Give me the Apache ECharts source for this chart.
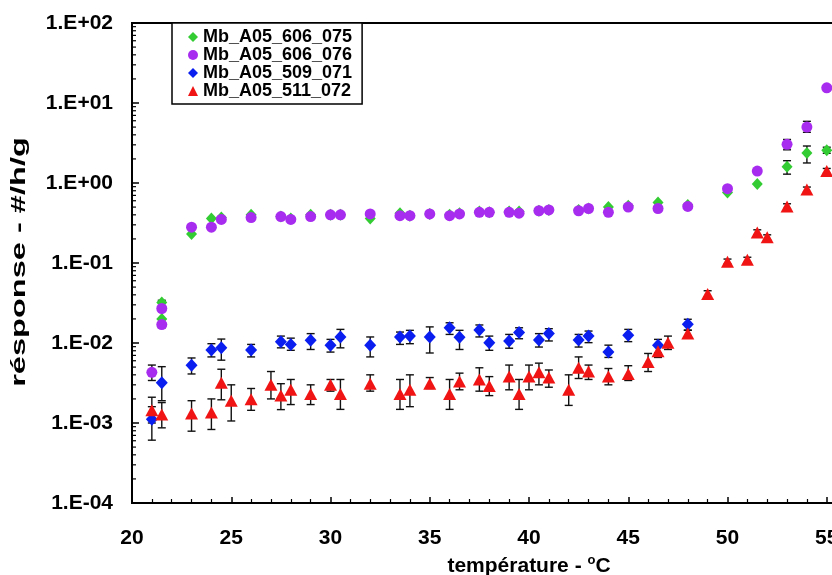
<!DOCTYPE html>
<html><head><meta charset="utf-8">
<script src="https://cdn.jsdelivr.net/npm/echarts@6/dist/echarts.min.js"></script>
<style>html,body{margin:0;padding:0;background:#fff}#c{width:832px;height:575px}</style>
</head><body><div id="c"></div>
<script>
const seriesNames = ['Mb_A05_606_075', 'Mb_A05_606_076', 'Mb_A05_509_071', 'Mb_A05_511_072'];

const greenT = [21.5,21.5,23,24,24.5,26,27.5,28,29,30,30.5,32,33.5,34,35,36,36.5,37.5,38,39,39.5,40.5,41,42.5,43,44,45,46.5,48,50,51.5,53,54,55];
const greenV = [0.032,0.020,0.23,0.36,0.37,0.40,0.38,0.36,0.40,0.40,0.40,0.36,0.42,0.39,0.41,0.40,0.42,0.44,0.43,0.44,0.44,0.45,0.46,0.46,0.48,0.50,0.52,0.57,0.53,0.76,0.97,1.60,2.37,2.57];
const greenErrT = [21.5,53,54,55];
const greenErrLo = [0.0155,1.29,1.78,2.35];
const greenErrHi = [0.0342,1.9,2.9,2.8];

const purpleT = [21,21.5,21.5,23,24,24.5,26,27.5,28,29,30,30.5,32,33.5,34,35,36,36.5,37.5,38,39,39.5,40.5,41,42.5,43,44,45,46.5,48,50,51.5,53,54,55];
const purpleV = [0.0043,0.027,0.017,0.28,0.28,0.35,0.37,0.38,0.35,0.38,0.40,0.40,0.41,0.39,0.39,0.41,0.39,0.41,0.43,0.43,0.43,0.42,0.45,0.46,0.45,0.48,0.43,0.50,0.48,0.51,0.85,1.41,3.04,5.0,15.5];
const purpleErrT = [21,53,54];
const purpleErrLo = [0.0034,2.6,4.3];
const purpleErrHi = [0.0053,3.5,5.9];

const blueT = [21,21.5,23,24,24.5,26,27.5,28,29,30,30.5,32,33.5,34,35,36,36.5,37.5,38,39,39.5,40.5,41,42.5,43,44,45,46.5,48];
const blueV = [0.00111,0.00319,0.00526,0.0082,0.0087,0.0082,0.0104,0.0096,0.0108,0.0094,0.0119,0.0094,0.0119,0.0122,0.0119,0.0155,0.0118,0.0145,0.0101,0.0106,0.0135,0.0109,0.0131,0.0109,0.0122,0.0077,0.0125,0.0094,0.0171];
const blueLo = [0.00061,0.0019,0.0041,0.0067,0.0061,0.0067,0.0087,0.0081,0.0083,0.0077,0.0087,0.0067,0.0096,0.0098,0.0075,0.0128,0.0083,0.0119,0.0081,0.0086,0.0113,0.0089,0.0106,0.0089,0.0101,0.0066,0.0104,0.0075,0.0144];
const blueHi = [0.0016,0.00506,0.0065,0.0098,0.0112,0.0096,0.0122,0.0115,0.0131,0.0111,0.0148,0.0119,0.0137,0.0144,0.0159,0.0179,0.0144,0.0168,0.0122,0.0128,0.0155,0.0131,0.0151,0.0128,0.0141,0.0094,0.0148,0.0111,0.0198];

const redT = [21,21.5,23,24,24.5,25,26,27,27.5,28,29,30,30.5,32,33.5,34,35,36,36.5,37.5,38,39,39.5,40,40.5,41,42,42.5,43,44,45,46,46.5,47,48,49,50,51,51.5,52,53,54,55];
const redV = [0.00144,0.00128,0.00131,0.00135,0.00318,0.0019,0.00198,0.0030,0.0022,0.0026,0.0023,0.0030,0.0023,0.0031,0.0023,0.0026,0.0031,0.0023,0.0033,0.0035,0.0029,0.0038,0.0023,0.0038,0.0043,0.0037,0.0026,0.0049,0.0044,0.0038,0.0041,0.0058,0.0079,0.0101,0.0131,0.041,0.104,0.11,0.24,0.21,0.51,0.83,1.41];
const redLo = [0.0010,0.00087,0.00079,0.00083,0.00195,0.00106,0.00144,0.0020,0.00147,0.0017,0.0017,0.0025,0.00148,0.0025,0.00148,0.0016,0.0027,0.00148,0.0026,0.0025,0.0022,0.0026,0.00148,0.0026,0.0030,0.0028,0.00166,0.0036,0.0035,0.0030,0.0034,0.0044,0.0066,0.0083,0.0118,0.038,0.097,0.102,0.225,0.196,0.48,0.78,1.32];
const redHi = [0.0021,0.0018,0.0019,0.0020,0.0047,0.0030,0.0027,0.0044,0.0031,0.0035,0.0030,0.0035,0.0035,0.0040,0.0035,0.0040,0.0037,0.0035,0.0042,0.0049,0.0038,0.0053,0.0035,0.0053,0.0056,0.0046,0.0040,0.0067,0.0053,0.0048,0.0052,0.0074,0.0092,0.0122,0.0145,0.045,0.112,0.118,0.26,0.225,0.55,0.89,1.52];

const xTitle = 'température - {sup|o}C';
const yTitle = 'résponse - #/h/g';

const FONT = '"Liberation Sans", Arial, sans-serif';
const colors = ['#33cc33', '#a82cf0', '#0a1ef0', '#f01414'];
const symbols = ['diamond', 'circle', 'diamond', 'triangle'];
const sizes = [[11, 12], 11, [12, 13], [13, 12]];

function zip2(a, b) { return a.map((v, i) => [v, b[i]]); }
function zip3(a, b, c) { return a.map((v, i) => [v, b[i], c[i]]); }

function errRender(params, api) {
  const x = api.value(0), lo = api.value(1), hi = api.value(2);
  const p1 = api.coord([x, lo]);
  const p2 = api.coord([x, hi]);
  const cw = 4;
  const st = { stroke: '#111', lineWidth: 1.4 };
  return {
    type: 'group',
    children: [
      { type: 'line', shape: { x1: p1[0], y1: p1[1], x2: p2[0], y2: p2[1] }, style: st },
      { type: 'line', shape: { x1: p1[0] - cw, y1: p1[1], x2: p1[0] + cw, y2: p1[1] }, style: st },
      { type: 'line', shape: { x1: p2[0] - cw, y1: p2[1], x2: p2[0] + cw, y2: p2[1] }, style: st }
    ]
  };
}

// log minor tick positions on the y axis (2..9 x 10^k)
const minorY = [];
for (let k = -4; k < 2; k++) for (let m = 2; m <= 9; m++) minorY.push([20, m * Math.pow(10, k)]);

function errSeries(data, z) {
  return { type: 'custom', renderItem: errRender, data: data, encode: { x: 0, y: [1, 2] }, z: z, silent: true, clip: false };
}

const chart = echarts.init(document.getElementById('c'), null, { renderer: 'canvas' });
chart.setOption({
  animation: false,
  backgroundColor: '#fff',
  textStyle: { fontFamily: FONT },
  grid: { left: 132, top: 23, right: -94, bottom: 72, outerBoundsMode: 'none', containLabel: false,
    show: true, borderColor: '#000', borderWidth: 2, backgroundColor: 'transparent' },
  graphic: [{
    type: 'text', x: 19, y: 262, rotation: Math.PI / 2, scaleX: 1.55, z: 10,
    style: { text: yTitle, font: 'bold 21px "Liberation Sans", Arial, sans-serif', fill: '#000', align: 'center', verticalAlign: 'middle' }
  }],
  legend: {
    orient: 'vertical', left: 172, top: 23,
    backgroundColor: '#fff', borderColor: '#000', borderWidth: 1.5,
    padding: [5, 10, 4, 16], itemGap: 0, itemWidth: 10, itemHeight: 10,
    textStyle: { fontFamily: FONT, fontWeight: 'bold', fontSize: 18, color: '#000', lineHeight: 17 },
    data: seriesNames.map((n, i) => ({ name: n, icon: symbols[i] }))
  },
  xAxis: {
    type: 'value', min: 20, max: 60, interval: 5,
    axisLine: { lineStyle: { color: '#000', width: 2 } },
    axisTick: { inside: true, length: 6, lineStyle: { color: '#000', width: 1.5 } },
    minorTick: { show: true, splitNumber: 5, length: 4, lineStyle: { color: '#000', width: 1.2 } },
    splitLine: { show: false },
    axisLabel: { fontFamily: FONT, fontWeight: 'bold', fontSize: 21, color: '#000', margin: 25 },
    name: xTitle, nameLocation: 'middle', nameGap: 50,
    nameTextStyle: { fontFamily: FONT, fontWeight: 'bold', fontSize: 21, color: '#000',
      rich: { sup: { fontFamily: FONT, fontWeight: 'bold', fontSize: 13, color: '#000', padding: [0, 0, 12, 0] } } }
  },
  yAxis: {
    type: 'log', logBase: 10, min: 1e-4, max: 100, interval: 1,
    axisLine: { lineStyle: { color: '#000', width: 2 } },
    axisTick: { inside: true, length: 7, lineStyle: { color: '#000', width: 1.5 } },
    splitLine: { show: false },
    axisLabel: {
      fontFamily: FONT, fontWeight: 'bold', fontSize: 21, color: '#000', margin: 19,
      formatter: function (v) {
        const e = Math.round(Math.log10(v));
        const a = Math.abs(e);
        return '1.E' + (e >= 0 ? '+' : '-') + (a < 10 ? '0' : '') + a;
      }
    }
  },
  series: [
    { type: 'custom', silent: true, clip: false, z: 5, data: minorY, encode: { x: 0, y: 1 },
      renderItem: function (params, api) {
        const p = api.coord([api.value(0), api.value(1)]);
        return { type: 'line', shape: { x1: p[0], y1: p[1], x2: p[0] + 4, y2: p[1] }, style: { stroke: '#000', lineWidth: 1.2 } };
      } },
    errSeries(zip3(greenErrT, greenErrLo, greenErrHi), 2),
    errSeries(zip3(purpleErrT, purpleErrLo, purpleErrHi), 2),
    errSeries(zip3(blueT, blueLo, blueHi), 2),
    errSeries(zip3(redT, redLo, redHi), 2),
    { name: seriesNames[0], type: 'scatter', data: zip2(greenT, greenV), symbol: symbols[0], symbolSize: sizes[0], itemStyle: { color: colors[0], opacity: 1 }, z: 3 },
    { name: seriesNames[1], type: 'scatter', data: zip2(purpleT, purpleV), symbol: symbols[1], symbolSize: sizes[1], itemStyle: { color: colors[1], opacity: 1 }, z: 3 },
    { name: seriesNames[2], type: 'scatter', data: zip2(blueT, blueV), symbol: symbols[2], symbolSize: sizes[2], itemStyle: { color: colors[2], opacity: 1 }, z: 3 },
    { name: seriesNames[3], type: 'scatter', data: zip2(redT, redV), symbol: symbols[3], symbolSize: sizes[3], itemStyle: { color: colors[3], opacity: 1 }, z: 3 }
  ]
});
</script>
</body></html>
